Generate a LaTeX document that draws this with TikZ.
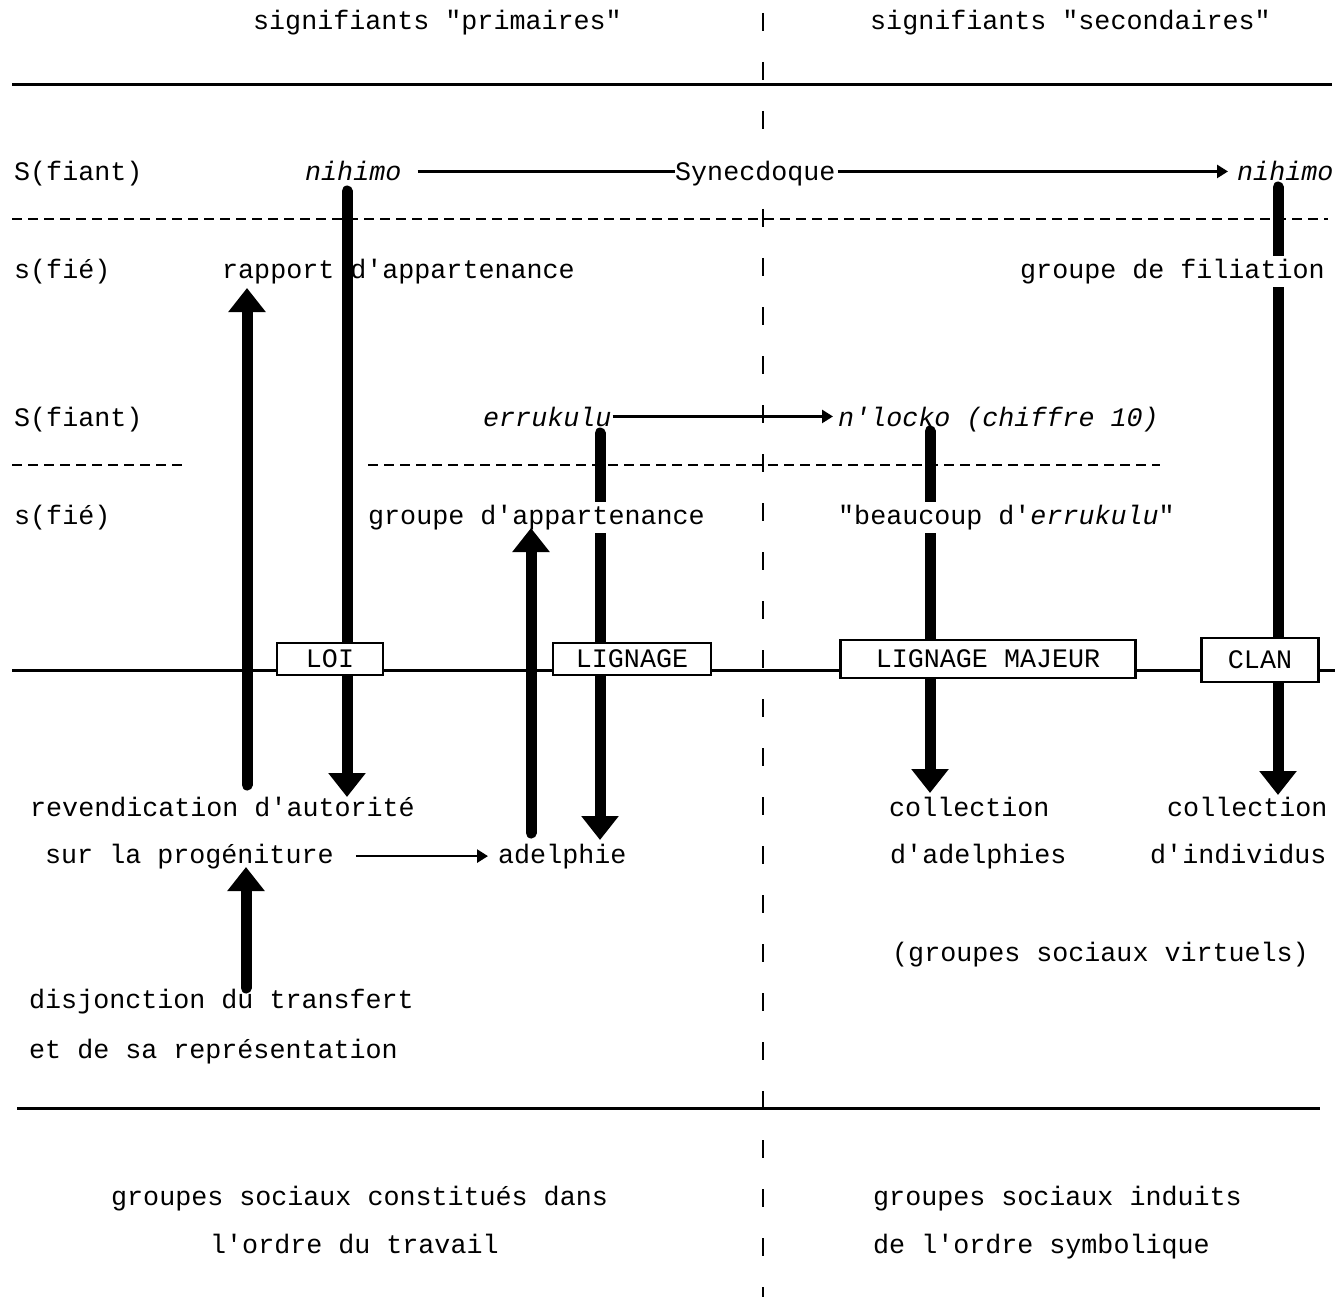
\documentclass[tikz,border=0pt]{standalone}
\usepackage{fontspec}
\setmonofont{Liberation Mono}
\usetikzlibrary{arrows.meta}
\tikzset{
  txt/.style={anchor=base west, inner sep=0pt, font=\ttfamily\fontsize{26.7}{32}\selectfont},
  cover/.style={txt, fill=white, inner ysep=3pt},
  boxlbl/.style={draw, line width=2.5pt, fill=white, inner sep=0pt, font=\ttfamily\fontsize{26.7}{32}\selectfont},
  rule/.style={line width=3pt},
  dashrule/.style={line width=2.5pt, dash pattern=on 10pt off 6pt},
  axisline/.style={line width=2pt, dash pattern=on 18pt off 31pt},
  thinline/.style={line width=2.6pt},
  thinarrow/.style={line width=2.6pt, -{Triangle[length=11pt,width=13pt]}},
  thickarrow/.style={line width=11pt, line cap=round, -{Triangle[length=24pt,width=36pt]}},
}
\begin{document}
\begin{tikzpicture}[x=1pt,y=-1pt]
\useasboundingbox (0,0) rectangle (1335,1297);
\fill[white] (0,0) rectangle (1335,1297);

% central axis
\coordinate (axtop) at (763,13);
\coordinate (axbot) at (763,1297);
\draw[axisline] (axtop) -- (axbot);

% rules
\draw[rule] (12,85) -- (1332,85);
\draw[dashrule] (12,219) -- (1328,219);
\draw[dashrule] (12,465) -- (185,465);
\draw[dashrule] (368,465) -- (1160,465);
\draw[rule] (12,670) -- (1335,670);
\draw[rule] (17,1108) -- (1320,1108);

% texts
\node[txt] (t1) at (253,30) {signifiants "primaires"};
\node[txt] (t2) at (870,30) {signifiants "secondaires"};
\node[txt] (sf1) at (14,181) {S(fiant)};
\node[txt] (nih1) at (305,181) {\itshape nihimo};
\node[cover] (syn) at (675,181) {Synecdoque};
\node[txt] (nih2) at (1237,181) {\itshape nihimo};
\node[txt] (sg1) at (14,278) {s(fié)};
\node[txt] (rap) at (222,278) {rapport d'appartenance};
\node[txt] (sf2) at (14,426) {S(fiant)};
\node[txt] (err) at (483,426) {\itshape errukulu};
\node[txt] (nlo) at (838,426) {\itshape n'locko (chiffre 10)};
\node[txt] (sg2) at (14,524) {s(fié)};

\node[txt] (rev) at (30,816) {revendication d'autorité};
\node[txt] (prog) at (45,863) {sur la progéniture};
\node[txt] (adel) at (498,863) {adelphie};
\node[txt] (col1) at (889,816) {collection};
\node[txt] (dad) at (890,863) {d'adelphies};
\node[txt] (col2) at (1167,816) {collection};
\node[txt] (dind) at (1150,863) {d'individus};
\node[txt] (virt) at (892,961) {(groupes sociaux virtuels)};
\node[txt] (dis1) at (29,1008) {disjonction du transfert};
\node[txt] (dis2) at (29,1058) {et de sa représentation};
\node[txt] (gs1) at (111,1205) {groupes sociaux constitués dans};
\node[txt] (gs2) at (210,1253) {l'ordre du travail};
\node[txt] (gi1) at (873,1205) {groupes sociaux induits};
\node[txt] (gi2) at (873,1253) {de l'ordre symbolique};

% thin connectors
\draw[thinline, shorten <=16pt] (nih1.east) -- (nih1.east -| syn.west);
\draw[thinarrow, shorten <=2pt, shorten >=9pt] (syn.east |- nih1.east) -- (nih2.west |- nih1.east);
\draw[thinarrow, shorten <=1pt, shorten >=5pt] (err.east) -- (err.east -| nlo.west);
\draw[thinarrow, shorten <=22pt, shorten >=10pt] (prog.east |- adel.east) -- (adel.west);

% thick arrows interrupted by labels
\coordinate (a4s) at (600,433);
\coordinate (a4e) at (600,840);
\coordinate (a5s) at (930,431);
\coordinate (a5e) at (930,793);
\coordinate (a6s) at (1278,187);
\coordinate (a6e) at (1278,795);
\draw[thickarrow] (a4s) -- (a4e);
\draw[thickarrow] (a5s) -- (a5e);
\draw[thickarrow] (a6s) -- (a6e);

\node[cover] (fil) at (1020,278) {groupe de filiation};
\node[cover] (gap) at (368,524) {groupe d'appartenance};
\node[cover] (bea) at (838,524) {"beaucoup d'\textit{errukulu}"};

% other thick arrows
\coordinate (a1s) at (247,785);
\coordinate (a1e) at (247,288);
\coordinate (a2s) at (347,191);
\coordinate (a2e) at (347,797);
\coordinate (a3s) at (531,833);
\coordinate (a3e) at (531,528);
\coordinate (a7s) at (246,988);
\coordinate (a7e) at (246,867);
\draw[thickarrow] (a1s) -- (a1e);
\draw[thickarrow] (a2s) -- (a2e);
\draw[thickarrow] (a3s) -- (a3e);
\draw[thickarrow] (a7s) -- (a7e);

% boxes
\node[boxlbl, minimum width=106pt, minimum height=32pt] (loi) at (330,659) {LOI};
\node[boxlbl, minimum width=158pt, minimum height=32pt] (lig) at (632,659) {LIGNAGE\hspace{28pt}};
\node[boxlbl, minimum width=295pt, minimum height=38pt] (ligm) at (988,659) {LIGNAGE MAJEUR};
\node[boxlbl, minimum width=117pt, minimum height=44pt] (clan) at (1260,660) {CLAN};
\end{tikzpicture}
\end{document}
